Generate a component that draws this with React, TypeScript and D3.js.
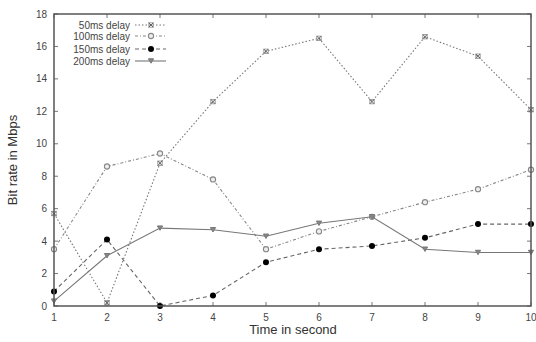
import * as d3 from "d3";

const seconds = [1, 2, 3, 4, 5, 6, 7, 8, 9, 10];
const delay50 = [5.7, 0.2, 8.8, 12.6, 15.7, 16.5, 12.6, 16.6, 15.4, 12.1];
const delay100 = [3.5, 8.6, 9.4, 7.8, 3.5, 4.6, 5.5, 6.4, 7.2, 8.4];
const delay150 = [0.9, 4.1, 0.0, 0.65, 2.7, 3.5, 3.7, 4.2, 5.05, 5.05];
const delay200 = [0.3, 3.1, 4.8, 4.7, 4.3, 5.1, 5.5, 3.5, 3.3, 3.3];
const seriesNames = ["50ms delay", "100ms delay", "150ms delay", "200ms delay"];
const yTicks = [0, 2, 4, 6, 8, 10, 12, 14, 16, 18];

const W = 536;
const H = 342;
const m = { top: 14, right: 5, bottom: 36, left: 54 };

type Marker = "star" | "ring" | "dot" | "tri";

const series: { name: string; values: number[]; dash: string; color: string; marker: Marker }[] = [
  { name: seriesNames[0], values: delay50, dash: "1.5,2", color: "#777", marker: "star" },
  { name: seriesNames[1], values: delay100, dash: "3,2,1,2", color: "#888", marker: "ring" },
  { name: seriesNames[2], values: delay150, dash: "4,3", color: "#666", marker: "dot" },
  { name: seriesNames[3], values: delay200, dash: "", color: "#777", marker: "tri" },
];

const drawMarker = (kind: Marker, x: number, y: number, key: string) => {
  if (kind === "star")
    return (
      <g key={key} stroke="#555" strokeWidth={0.9}>
        <rect x={x - 2.2} y={y - 2.2} width={4.4} height={4.4} fill="none" stroke="#999" />
        <line x1={x - 2.2} y1={y - 2.2} x2={x + 2.2} y2={y + 2.2} />
        <line x1={x - 2.2} y1={y + 2.2} x2={x + 2.2} y2={y - 2.2} />
      </g>
    );
  if (kind === "ring")
    return <circle key={key} cx={x} cy={y} r={2.6} fill="#eee" stroke="#888" strokeWidth={1.1} />;
  if (kind === "dot") return <circle key={key} cx={x} cy={y} r={3} fill="#000" />;
  return (
    <path
      key={key}
      d={`M${x - 2.6},${y - 2.2}L${x + 2.6},${y - 2.2}L${x},${y + 2.2}Z`}
      fill="#888"
      stroke="#777"
    />
  );
};

export default function App() {
  const x = d3.scaleLinear().domain([1, 10]).range([m.left, W - m.right]);
  const y = d3.scaleLinear().domain([0, 18]).range([H - m.bottom, m.top]);
  const line = d3
    .line<number>()
    .x((_, i) => x(seconds[i]))
    .y((d) => y(d));

  const legendY = [25, 36, 49, 61];

  return (
    <svg width={W} height={H} style={{ position: "absolute", left: 0, top: 0, background: "#fff" }} fontFamily="Liberation Sans, Arial, sans-serif">
      {/* ticks */}
      {yTicks.map((t) => (
        <g key={"y" + t} stroke="#777" strokeWidth={1}>
          <line x1={m.left} x2={m.left + 4} y1={y(t)} y2={y(t)} />
          <line x1={W - m.right} x2={W - m.right - 4} y1={y(t)} y2={y(t)} />
        </g>
      ))}
      {seconds.map((t) => (
        <g key={"x" + t} stroke="#777" strokeWidth={1}>
          <line x1={x(t)} x2={x(t)} y1={H - m.bottom} y2={H - m.bottom - 4} />
          <line x1={x(t)} x2={x(t)} y1={m.top} y2={m.top + 4} />
        </g>
      ))}
      {yTicks.map((t) => (
        <text key={"yl" + t} x={m.left - 7} y={y(t)} dy="0.35em" textAnchor="end" fontSize={10} fill="#444">
          {t}
        </text>
      ))}
      {seconds.map((t) => (
        <text key={"xl" + t} x={x(t)} y={H - m.bottom + 15} textAnchor="middle" fontSize={10} fill="#444">
          {t}
        </text>
      ))}
      {/* series */}
      {series.map((s) => (
        <g key={s.name}>
          <path d={line(s.values) ?? ""} fill="none" stroke={s.color} strokeWidth={1.1} strokeDasharray={s.dash} />
          {s.values.map((v, i) => drawMarker(s.marker, x(seconds[i]), y(v), s.name + i))}
        </g>
      ))}
      {/* legend */}
      {series.map((s, i) => (
        <g key={"lg" + s.name}>
          <text x={130} y={legendY[i]} dy="0.35em" textAnchor="end" fontSize={10} fill="#444">
            {s.name}
          </text>
          <line x1={135} x2={166} y1={legendY[i]} y2={legendY[i]} stroke={s.color} strokeWidth={1.1} strokeDasharray={s.dash} />
          {drawMarker(s.marker, 151, legendY[i], "lm" + i)}
        </g>
      ))}
      <rect x={m.left} y={m.top} width={W - m.left - m.right} height={H - m.top - m.bottom} fill="none" stroke="#555" strokeWidth={1.5} />
      <text x={293} y={H - 8} textAnchor="middle" fontSize={13} fill="#333">
        Time in second
      </text>
      <text transform={`translate(17,${(m.top + H - m.bottom) / 2}) rotate(-90)`} textAnchor="middle" fontSize={13} fill="#333">
        Bit rate in Mbps
      </text>
    </svg>
  );
}
